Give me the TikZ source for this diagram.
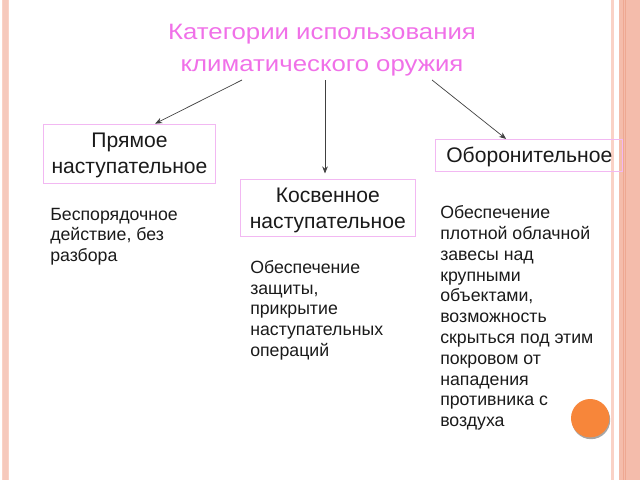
\documentclass[tikz,border=0pt]{standalone}
\usepackage{fontspec}
\setmainfont{Liberation Sans}
\newfontfamily\titlefont{Liberation Sans}[FakeStretch=1.16]
\usetikzlibrary{arrows.meta}
\definecolor{titlepink}{RGB}{240,112,232}
\definecolor{boxpink}{RGB}{242,184,242}
\definecolor{stripe}{RGB}{244,188,171}
\definecolor{stripedark}{RGB}{238,168,146}
\definecolor{stripelight}{RGB}{250,210,198}
\definecolor{dotorange}{RGB}{247,134,58}
\definecolor{ink}{RGB}{26,26,26}
\begin{document}
\begin{tikzpicture}[x=0.025cm, y=-0.025cm,
    box/.style={draw=boxpink, line width=0.6pt, align=center, inner sep=0pt,
      text depth=0pt, text=ink, font=\fontsize{15}{18.5}\selectfont},
    body/.style={anchor=base west, align=left, inner sep=0pt, text=ink,
      font=\fontsize{12.6}{14.8}\selectfont},
    arr/.style={draw=black!75, line width=0.5pt, -{Stealth[length=5pt,width=4pt]}}]
    \useasboundingbox (0,0) rectangle (640,480);
    % page stripes
    \fill[stripelight] (2,0) rectangle (9,480);
    \fill[stripe!80] (3,0) rectangle (7.5,480);
    \fill[stripelight] (611,0) rectangle (613.5,480);
    \fill[stripe] (619,0) rectangle (640,480);
    \fill[stripedark] (622.5,0) rectangle (623.5,480);
    \fill[stripedark] (625,0) rectangle (626,480);
    % title (base = last line)
    \node[anchor=base, align=center, inner sep=0pt, text=titlepink,
      font=\titlefont\fontsize{15.8}{23}\selectfont] (title) at (322,71.7)
      {Категории использования\\климатического оружия};
    \coordinate (t1) at (242,80);
    \coordinate (t2) at (325,80);
    \coordinate (t3) at (432,80);
    % categories
    \node[box, minimum width=4.31cm, minimum height=1.48cm] (pryam) at (129.5,153.7)
      {Прямое\\наступательное};
    \node[box, minimum width=4.39cm, minimum height=1.42cm] (kosv) at (327.8,208.3)
      {Косвенное\\наступательное};
    \node[box, minimum width=4.67cm, minimum height=0.79cm] (oboron) at (529.3,155.2)
      {Оборонительное};
    \draw[arr] (t1) -- ([xshift=0.64cm]pryam.north);
    \draw[arr] (t2) -- ([yshift=0.15cm]kosv.north -| t2);
    \draw[arr] (t3) -- ([xshift=-0.58cm]oboron.north);
    % descriptions (base = last line)
    \node[body] (pryamtxt) at (50,261.7)
      {Беспорядочное\\действие, без\\разбора};
    \node[body] (kosvtxt) at (250,356.5)
      {Обеспечение\\защиты,\\прикрытие\\наступательных\\операций};
    \node[body] (oborontxt) at (440,426.8)
      {Обеспечение\\плотной облачной\\завесы над\\крупными\\объектами,\\возможность\\скрыться под этим\\покровом от\\нападения\\противника с\\воздуха};
    % orange dot
    \fill[black!35] (591,420) circle (19.2);
    \fill[dotorange] (590.2,418.2) circle (19.2);
\end{tikzpicture}
\end{document}
